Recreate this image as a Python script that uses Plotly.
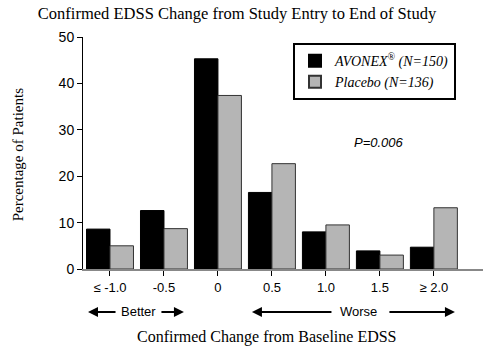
import plotly.graph_objects as go

categories = ["≤ -1.0", "-0.5", "0", "0.5", "1.0", "1.5", "≥ 2.0"]
avonex = [8.6, 12.6, 45.3, 16.5, 8.0, 3.9, 4.7]
placebo = [5.0, 8.7, 37.4, 22.7, 9.5, 3.0, 13.2]
y_ticks = [0, 10, 20, 30, 40, 50]

xpos = list(range(len(categories)))

fig = go.Figure()
fig.add_trace(go.Bar(
    x=xpos, y=avonex, name="AVONEX<sup>®</sup> (N=150)",
    marker=dict(color="#000000", line=dict(color="#000000", width=1)),
))
fig.add_trace(go.Bar(
    x=xpos, y=placebo, name="Placebo (N=136)",
    marker=dict(color="#b5b5b5", line=dict(color="#333333", width=1)),
))

serif = "Liberation Serif, Times New Roman, serif"
sans = "Liberation Sans, Arial, sans-serif"

fig.update_layout(
    width=500, height=351,
    margin=dict(l=83, r=17, t=37, b=82),
    paper_bgcolor="white", plot_bgcolor="white",
    barmode="group", bargap=0.13, bargroupgap=0,
    title=dict(text="Confirmed EDSS Change from Study Entry to End of Study",
               font=dict(family=serif, size=16.5, color="black"),
               x=0.474, xanchor="center", y=0.962, yanchor="middle"),
    showlegend=True,
    legend=dict(x=0.525, y=0.974, xanchor="left", yanchor="top",
                bordercolor="black", borderwidth=2, bgcolor="white",
                font=dict(family=serif, size=14, color="black", style="italic"),
                itemsizing="constant", tracegroupgap=0),
    xaxis=dict(range=[-0.5, 6.91], tickvals=xpos, ticktext=categories,
               showline=True, linecolor="#888888", linewidth=2,
               ticks="outside", ticklen=5, tickcolor="black",
               showgrid=False, zeroline=False, automargin=False,
               tickfont=dict(family=sans, size=13, color="black")),
    yaxis=dict(range=[0, 50], tickvals=y_ticks,
               showline=True, linecolor="black", linewidth=1,
               ticks="outside", ticklen=5, tickcolor="black",
               showgrid=False, zeroline=False, automargin=False,
               tickfont=dict(family=sans, size=14, color="black")),
)

# axis titles
fig.add_annotation(x=0.46, y=-0.293, xref="paper", yref="paper",
                   xanchor="center", yanchor="middle",
                   text="Confirmed Change from Baseline EDSS", showarrow=False,
                   font=dict(family=serif, size=16, color="black"))
fig.add_annotation(x=0, y=0.49, xref="paper", yref="paper", xshift=-65,
                   xanchor="center", yanchor="middle",
                   text="Percentage of Patients", showarrow=False, textangle=-90,
                   font=dict(family=serif, size=15, color="black"))

# P-value
fig.add_annotation(x=4.98, y=27.2, xref="x", yref="y", text="<i>P=0.006</i>",
                   xanchor="center", yanchor="middle",
                   showarrow=False, font=dict(family=sans, size=13, color="black"))

# Better / Worse labels and arrows
yrow = -0.185
fig.add_annotation(x=0.52, y=yrow, xref="x", yref="paper", text="Better",
                   xanchor="center", yanchor="middle",
                   showarrow=False, font=dict(family=sans, size=13, color="black"))
fig.add_annotation(x=4.6, y=yrow, xref="x", yref="paper", text="Worse",
                   xanchor="center", yanchor="middle",
                   showarrow=False, font=dict(family=sans, size=13, color="black"))
for head, off in [(-0.407, 29), (1.37, -24), (2.63, 81), (6.39, -67)]:
    fig.add_annotation(x=head, y=yrow, xref="x", yref="paper", text="",
                       showarrow=True, ax=off, ay=0, arrowhead=2,
                       arrowsize=1, arrowwidth=2, arrowcolor="black")

fig.write_html("out.html")
